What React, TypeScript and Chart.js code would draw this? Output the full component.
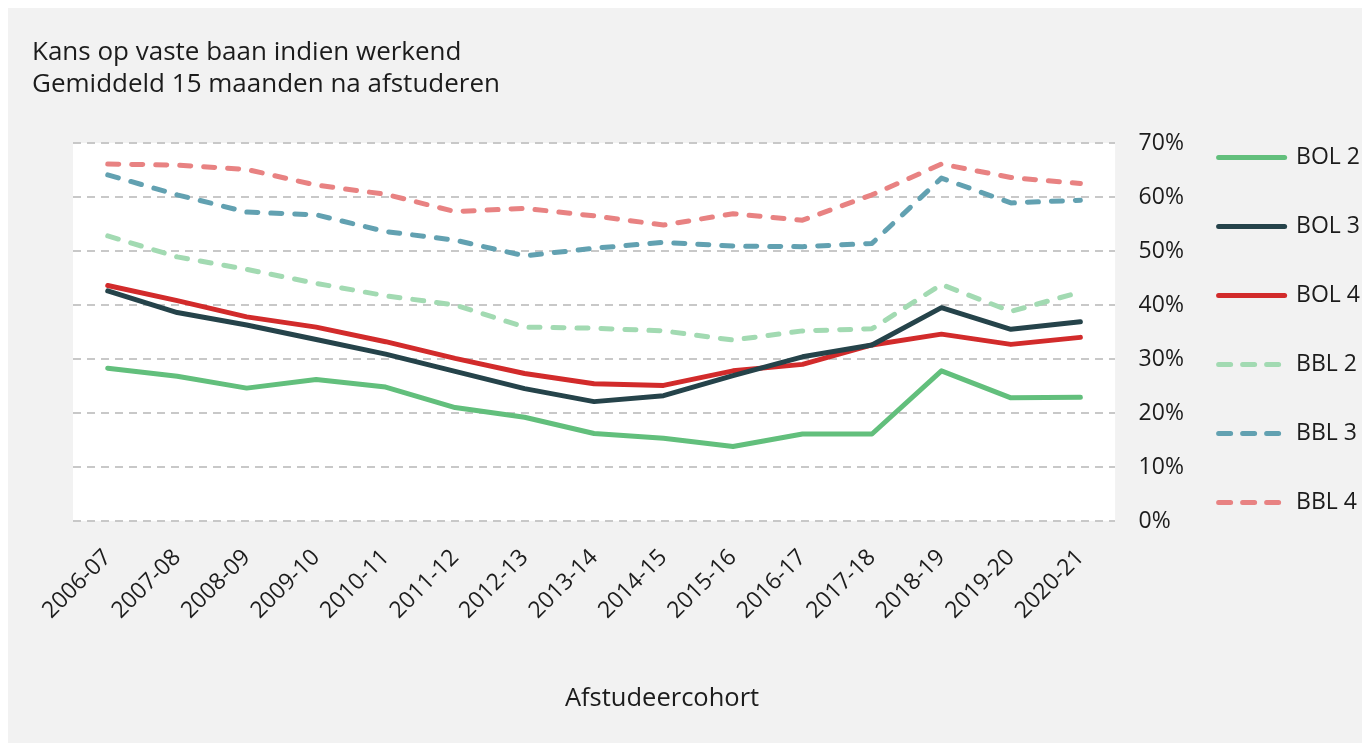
import React, { useEffect, useRef } from 'react';
import { Chart, registerables } from 'chart.js';

Chart.register(...registerables);

const cohorts = ['2006-07', '2007-08', '2008-09', '2009-10', '2010-11', '2011-12', '2012-13', '2013-14', '2014-15', '2015-16', '2016-17', '2017-18', '2018-19', '2019-20', '2020-21'];

const bol2 = [28.3, 26.8, 24.6, 26.2, 24.8, 21.0, 19.2, 16.2, 15.3, 13.8, 16.1, 16.1, 27.8, 22.8, 22.9];
const bol3 = [42.6, 38.6, 36.3, 33.6, 30.9, 27.7, 24.5, 22.1, 23.2, 26.9, 30.4, 32.6, 39.5, 35.5, 36.9];
const bol4 = [43.6, 40.8, 37.8, 35.9, 33.2, 30.1, 27.3, 25.4, 25.1, 27.8, 29.0, 32.6, 34.6, 32.7, 34.0];
const bbl2 = [52.8, 48.9, 46.6, 44.0, 41.7, 40.0, 35.9, 35.7, 35.2, 33.5, 35.2, 35.6, 43.8, 38.8, 42.4];
const bbl3 = [64.1, 60.4, 57.2, 56.7, 53.6, 52.0, 49.1, 50.5, 51.6, 50.9, 50.8, 51.4, 63.5, 58.9, 59.4];
const bbl4 = [66.1, 65.9, 65.1, 62.2, 60.5, 57.3, 57.9, 56.5, 54.8, 56.9, 55.7, 60.4, 66.1, 63.6, 62.5];

const titleLines = ['Kans op vaste baan indien werkend', 'Gemiddeld 15 maanden na afstuderen'];
const xCaption = 'Afstudeercohort';

const FONT = '"Open Sans", Lato, sans-serif';
const TEXT = '#1c1c1c';

const plotBgPlugin = {
  id: 'plotBg',
  beforeDraw(chart: any) {
    const { ctx, chartArea } = chart;
    if (!chartArea) return;
    ctx.save();
    ctx.fillStyle = '#ffffff';
    ctx.fillRect(chartArea.left, chartArea.top, chartArea.right - chartArea.left, chartArea.bottom - chartArea.top);
    ctx.restore();
  },
};

const captionPlugin = {
  id: 'caption',
  afterDraw(chart: any, _args: any, opts: any) {
    const { ctx } = chart;
    ctx.save();
    ctx.font = `${opts.size}px ${FONT}`;
    ctx.fillStyle = TEXT;
    ctx.textAlign = 'center';
    ctx.textBaseline = 'middle';
    ctx.fillText(opts.text, chart.width * opts.xFrac, chart.height - opts.fromBottom);
    ctx.restore();
  },
};

export default function App() {
  const ref = useRef<HTMLCanvasElement | null>(null);

  useEffect(() => {
    if (!ref.current) return;
    const solid = (label: string, data: number[], color: string) => ({
      label, data, borderColor: color, backgroundColor: color, borderWidth: 5,
      pointRadius: 0, pointHoverRadius: 0, tension: 0, borderCapStyle: 'round', borderJoinStyle: 'round',
      yAxisID: 'y', fill: false,
    });
    const dashed = (label: string, data: number[], color: string) => ({
      ...solid(label, data, color), borderDash: [11, 13],
    });

    const chart = new Chart(ref.current, {
      type: 'line',
      data: {
        labels: cohorts,
        datasets: [
          solid('BOL 2', bol2, '#62bf7c'),
          solid('BOL 3', bol3, '#25434a'),
          solid('BOL 4', bol4, '#d22b2b'),
          dashed('BBL 2', bbl2, '#a2dab2'),
          dashed('BBL 3', bbl3, '#62a1b1'),
          dashed('BBL 4', bbl4, '#e88282'),
        ] as any,
      },
      options: {
        animation: false,
        responsive: true,
        maintainAspectRatio: false,
        layout: { padding: { left: 24, right: 0, top: 0, bottom: 95.5 } },
        plugins: {
          title: {
            display: true,
            text: titleLines,
            align: 'start',
            color: TEXT,
            font: { family: FONT, size: 26, weight: 'normal', lineHeight: 1.24 },
            padding: { top: 28.5, bottom: 42 },
          },
          legend: {
            position: 'right',
            align: 'start',
            title: { display: true, text: '', padding: { top: 0, bottom: 100.6 }, font: { size: 12, lineHeight: 1.2 } },
            labels: {
              usePointStyle: true,
              pointStyle: 'line',
              pointStyleWidth: 66,
              padding: 23,
              color: TEXT,
              font: { family: FONT, size: 23, lineHeight: 2 },
              generateLabels: (c: any) => {
                const items = (Chart.defaults.plugins.legend.labels as any).generateLabels(c);
                items.forEach((it: any) => {
                  const ds = c.data.datasets[it.datasetIndex];
                  it.text = [String(it.text)];
                  it.lineDash = ds.borderDash ? [12, 12] : [];
                  it.lineCap = 'round';
                  it.lineWidth = 5;
                  it.strokeStyle = ds.borderColor;
                  it.fillStyle = ds.borderColor;
                });
                return items;
              },
            },
          },
          tooltip: { enabled: false },
          caption: { text: xCaption, size: 25.5, xFrac: 0.4802, fromBottom: 44 },
        } as any,
        scales: {
          x: {
            offset: true,
            grid: { display: false, drawTicks: false },
            border: { display: false },
            ticks: {
              autoSkip: false,
              minRotation: 45,
              maxRotation: 45,
              padding: 23,
              color: TEXT,
              font: { family: FONT, size: 23 },
            },
          },
          yPad: {
            type: 'linear',
            position: 'left',
            display: true,
            grid: { display: false, drawTicks: false },
            border: { display: false },
            ticks: { display: false },
            afterFit: (s: any) => { s.width = 41; },
          },
          y: {
            type: 'linear',
            position: 'right',
            min: 0,
            max: 70,
            grid: { color: '#c8c8c8', lineWidth: 2, drawTicks: false },
            border: { display: false, dash: [8, 6] },
            ticks: {
              stepSize: 10,
              padding: 23.5,
              color: TEXT,
              font: { family: FONT, size: 23 },
              callback: (v: any) => `${v}%`,
            },
            afterFit: (s: any) => { s.width = 80.5; },
          },
        } as any,
      },
      plugins: [plotBgPlugin, captionPlugin],
    });
    return () => chart.destroy();
  }, []);

  return (
    <div style={{ width: 1362, height: 735, background: '#f2f2f2', position: 'relative' }}>
      <canvas ref={ref} />
    </div>
  );
}
